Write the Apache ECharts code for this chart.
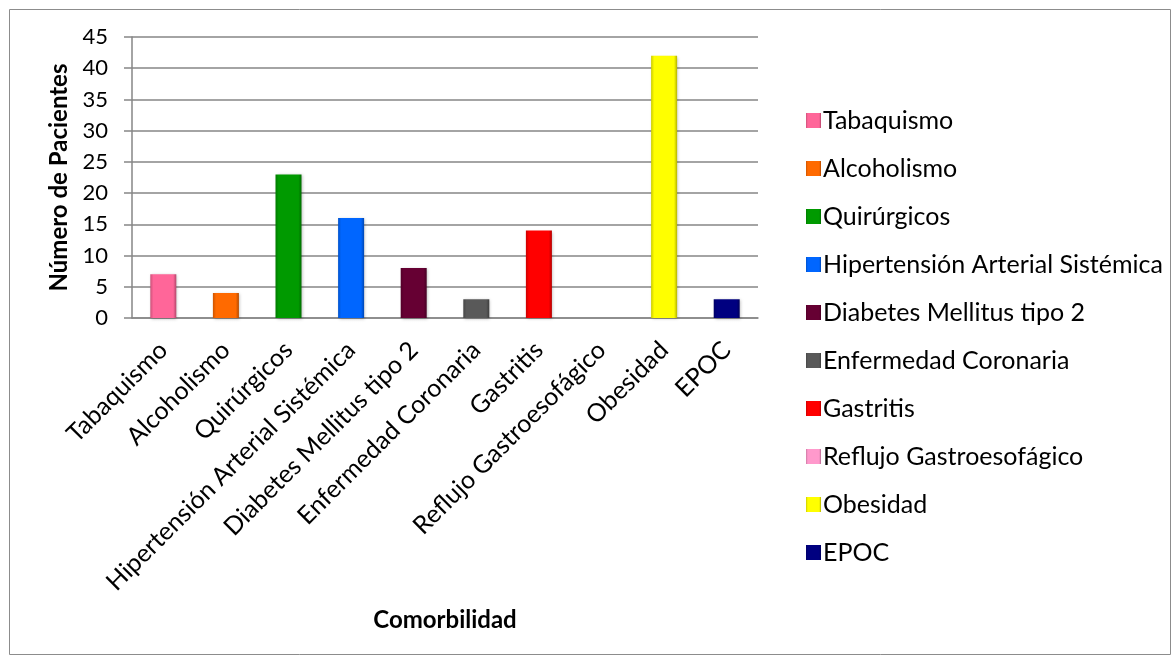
<!DOCTYPE html>
<html><head><meta charset="utf-8">
<script src="https://cdn.jsdelivr.net/npm/echarts@6/dist/echarts.min.js"></script>
<style>html,body{margin:0;padding:0;background:#fff}#c{width:1175px;height:661px}</style>
</head><body><div id="c"></div>
<script>
const categories = ["Tabaquismo","Alcoholismo","Quirúrgicos","Hipertensión Arterial Sistémica","Diabetes Mellitus tipo 2","Enfermedad Coronaria","Gastritis","Reflujo Gastroesofágico","Obesidad","EPOC"];
const values = [7, 4, 23, 16, 8, 3, 14, 0, 42, 3];
const colors = ["#FF6699","#FF6A00","#009A00","#0066FF","#660033","#595959","#FF0000","#FF99CC","#FFFF00","#000080"];
const yTicks = { min: 0, max: 45, interval: 5 };

function shade(hex, f){
  const n = parseInt(hex.slice(1),16);
  let r=(n>>16)&255,g=(n>>8)&255,b=n&255;
  r=Math.round(r*f);g=Math.round(g*f);b=Math.round(b*f);
  return 'rgb('+r+','+g+','+b+')';
}
const series = categories.map((name,i)=>({
  name: name,
  type: 'bar',
  stack: 'all',
  barWidth: 26,
  data: categories.map((_,j)=> j===i ? values[i] : '-'),
  itemStyle: {
    color: {type:'linear',x:0,y:0,x2:1,y2:0,colorStops:[
      {offset:0,color:shade(colors[i],0.8)},
      {offset:0.12,color:colors[i]},
      {offset:0.88,color:colors[i]},
      {offset:1,color:shade(colors[i],0.7)}]},
    borderWidth: 0,
    shadowColor: values[i] > 0 ? 'rgba(0,0,0,0.25)' : 'rgba(0,0,0,0)', shadowBlur: 3, shadowOffsetX: 1, shadowOffsetY: 1
  }
}));

const chart = echarts.init(document.getElementById('c'));
chart.setOption({
  backgroundColor: '#fff',
  animation: false,
  textStyle: { fontFamily: 'Lato' },
  graphic: [{ type:'rect', left: 7, top: 7, shape:{width:1161,height:645}, style:{fill:'none',stroke:'#8c8c8c',lineWidth:1}, z:-1 }],
  grid: { left: 132, right: 417, top: 37, bottom: 343 },
  legend: {
    orient: 'vertical', left: 801, top: 103,
    itemWidth: 15, itemHeight: 15, itemGap: 23,
    icon: 'rect',
    textStyle: { fontSize: 25, color: '#000', fontFamily: 'Lato', lineHeight: 25, padding:[0,0,0,-3] },
    data: categories
  },
  xAxis: {
    type: 'category', data: categories,
    name: 'Comorbilidad', nameLocation: 'middle', nameGap: 290,
    nameTextStyle: { fontSize: 24, fontWeight: 'bold', color: '#000', fontFamily: 'Lato' },
    axisLine: { lineStyle: { color: '#868686', width: 1.5 } },
    axisTick: { show: false },
    axisLabel: { rotate: 45, fontSize: 25, color: '#000', margin: 28, interval: 0, fontFamily: 'Lato' }
  },
  yAxis: {
    type: 'value', min: yTicks.min, max: yTicks.max, interval: yTicks.interval,
    name: 'Número de Pacientes', nameLocation: 'middle', nameGap: 60,
    nameTextStyle: { fontSize: 24, fontWeight: 'bold', color: '#000', fontFamily: 'Lato' },
    axisLine: { show: true, lineStyle: { color: '#868686', width: 1.5 } },
    axisTick: { show: true, length: 8, lineStyle: { color: '#868686', width: 1.5 } },
    axisLabel: { fontSize: 22, color: '#000', margin: 24, fontFamily: 'Lato' },
    splitLine: { lineStyle: { color: '#868686', width: 1.5 } }
  },
  series: series
});
</script></body></html>
